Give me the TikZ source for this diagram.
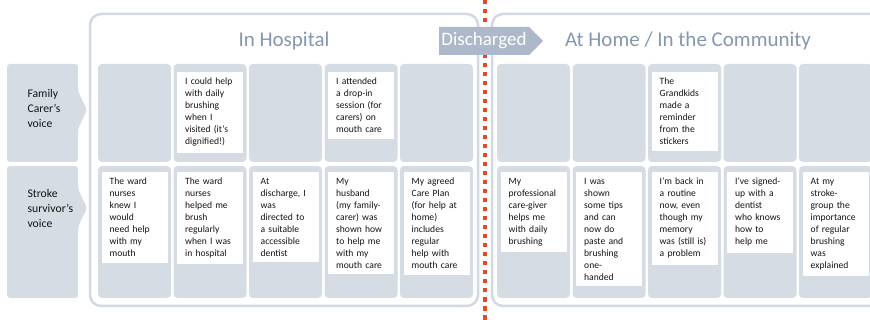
\documentclass[tikz,border=0pt]{standalone}
\usepackage{fontspec}
\setmainfont{Carlito}
\usepackage{xcolor}
\usetikzlibrary{positioning}
\usetikzlibrary{shapes.symbols}

\definecolor{cellgray}{HTML}{D6DCE4}
\definecolor{framegray}{HTML}{D3D9E2}
\definecolor{tabgray}{HTML}{ADB9CA}
\definecolor{titleblue}{HTML}{8497B0}
\definecolor{cardtext}{HTML}{141414}
\definecolor{dischargered}{HTML}{EE4523}

\begin{document}
\begin{tikzpicture}[x=1pt,y=-1pt,
	cell/.style={fill=cellgray, rounded corners=4pt},
	frame/.style={draw=framegray, line width=2.5pt, rounded corners=11pt},
	card/.style={fill=white, anchor=north west, text width=50pt, inner xsep=8pt,
		inner ysep=6pt, align=left, text=cardtext, font=\fontsize{9.6}{12}\selectfont},
	voice/.style={anchor=west, align=left, text=cardtext, font=\fontsize{11.7}{15}\selectfont},
	title/.style={text=titleblue, font=\fontsize{21}{24}\selectfont}]
	\useasboundingbox (0,0) rectangle (870,320);
	\clip (0,0) rectangle (870,320);
	% Draw frames for the two settings
	\draw[frame] (90,14) rectangle (478,306);
	\draw[frame] (492,14) rectangle (900,306);
	% Row labels
	\fill[cell, rounded corners=3pt] (7,64) -- (78,64) -- (78,91) -- (87,110) -- (78,129) -- (78,162) -- (7,162) -- cycle;
	\fill[cell, rounded corners=3pt] (7,166) -- (78,166) -- (78,189) -- (87,208) -- (78,227) -- (78,298) -- (7,298) -- cycle;
	\node[voice] (carer) at (24,108) {Family\\Carer’s\\voice};
	\node[voice] (survivor) at (24,208) {Stroke\\survivor’s\\voice};
	% Cells
	\foreach \cx in {98,173.5,249,324.5,400,497,572.5,648,723.5,799}{
		\fill[cell] (\cx,64) rectangle ++(73,98);
		\fill[cell] (\cx,166) rectangle ++(73,132);
	}
	% Titles
	\node[title] (hospital) at (284,41) {In Hospital};
	\node[title] (community) at (688,41) {At Home / In the Community};
	% red dotted line and discharge tab
	\coordinate (linetop) at (485,0);
	\coordinate (linebottom) at (485,320);
	\draw[dischargered, line width=4.5pt, dash pattern=on 4.5pt off 4.5pt] (linetop) -- (linebottom);
	\node[signal, signal to=east, signal pointer angle=90, fill=tabgray, text=white,
		minimum width=104pt, minimum height=28pt, inner sep=1pt,
		font=\fontsize{19}{22}\selectfont] (discharged) at (484,41) {Discharged};
	% Family carer cards
	\node[card] (c2) at (177,72) {I could help\\with daily\\brushing\\when I\\visited (it’s\\dignified!)};
	\node[card] (c4) at (328,72) {I attended\\a drop-in\\session (for\\carers) on\\mouth care};
	\node[card] (c8) at (651.5,72) {The\\Grandkids\\made a\\reminder\\from the\\stickers};
	% Stroke survivor cards
	\node[card] (s1) at (101.5,172) {The ward\\nurses\\knew I\\would\\need help\\with my\\mouth};
	\node[card] (s2) at (177,172) {The ward\\nurses\\helped me\\brush\\regularly\\when I was\\in hospital};
	\node[card] (s3) at (252.5,172) {At\\discharge, I\\was\\directed to\\a suitable\\accessible\\dentist};
	\node[card] (s4) at (328,172) {My\\husband\\(my family-\\carer) was\\shown how\\to help me\\with my\\mouth care};
	\node[card] (s5) at (403.5,172) {My agreed\\Care Plan\\(for help at\\home)\\includes\\regular\\help with\\mouth care};
	\node[card] (s6) at (500.5,172) {My\\professional\\care-giver\\helps me\\with daily\\brushing};
	\node[card] (s7) at (576,172) {I was\\shown\\some tips\\and can\\now do\\paste and\\brushing\\one-\\handed};
	\node[card] (s8) at (651.5,172) {I’m back in\\a routine\\now, even\\though my\\memory\\was (still is)\\a problem};
	\node[card] (s9) at (727,172) {I’ve signed-\\up with a\\dentist\\who knows\\how to\\help me};
	\node[card] (s10) at (802.5,172) {At my\\stroke-\\group the\\importance\\of regular\\brushing\\was\\explained};
\end{tikzpicture}
\end{document}
